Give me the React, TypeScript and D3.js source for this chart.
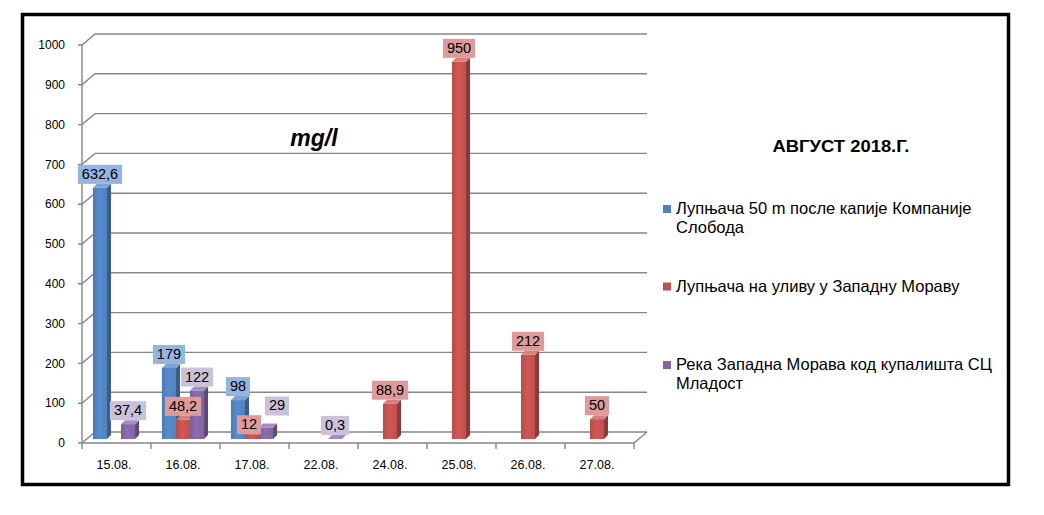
import { useEffect, useRef } from "react";
import * as d3 from "d3";

const categories = ["15.08.", "16.08.", "17.08.", "22.08.", "24.08.", "25.08.", "26.08.", "27.08."];
const upstreamValues = [632.6, 179, 98, null, null, null, null, null];
const outletValues = [null, 48.2, 12, null, 88.9, 950, 212, 50];
const riverValues = [37.4, 122, 29, 0.3, null, null, null, null];
const yTicks = [0, 100, 200, 300, 400, 500, 600, 700, 800, 900, 1000];
const legendLines = [
  ["Лупњача 50 m после капије Компаније", "Слобода"],
  ["Лупњача на уливу у Западну Мораву"],
  ["Река Западна Морава код купалишта СЦ", "Младост"],
];
const chartTitle = "АВГУСТ 2018.Г.";
const unitTitle = "mg/l";

type Series = {
  values: (number | null)[];
  front: string;
  side: string;
  top: string;
  label: string;
};

const series: Series[] = [
  { values: upstreamValues, front: "#4F81BD", side: "#385D8A", top: "#7EA3D3", label: "#93B5E0" },
  { values: outletValues, front: "#C0504D", side: "#8C3836", top: "#D8807E", label: "#DE9B99" },
  { values: riverValues, front: "#8064A2", side: "#5C4776", top: "#A38EC2", label: "#CCC1DA" },
];

// hand-moved data labels in the original (series-category)
const labelNudge: Record<string, [number, number]> = {
  "2-2": [11, -8],
  "1-2": [-3, 4],
};

export default function App() {
  const svgRef = useRef<SVGSVGElement>(null);

  useEffect(() => {
    if (!svgRef.current) return;
    const svg = d3.select(svgRef.current);
    svg.selectAll("*").remove();

    const font = "Arial, 'Liberation Sans', sans-serif";
    const axisColor = "#878787";
    const wallDx = 13;
    const wallDy = -11;
    const barDepth = 4;

    const x0 = d3
      .scaleBand<string>()
      .domain(categories)
      .range([82, 634])
      .paddingInner(0.39)
      .paddingOuter(0.195);
    const x1 = d3
      .scaleBand<number>()
      .domain(series.map((_, i) => i))
      .range([0, x0.bandwidth()]);
    const yFront = d3.scaleLinear().domain([0, 1000]).range([443, 45]);
    const yBar = d3.scaleLinear().domain([0, 1000]).range([439, 42]);
    const shift = -2.5;

    // outer frame
    svg
      .append("rect")
      .attr("x", 22.5)
      .attr("y", 14.5)
      .attr("width", 986)
      .attr("height", 470)
      .attr("fill", "none")
      .attr("stroke", "#000")
      .attr("stroke-width", 3.5);

    const grid = svg.append("g").attr("stroke", axisColor).attr("stroke-width", 1.4).attr("fill", "none");
    const left = 82;
    const right = 634;

    yTicks.forEach((t) => {
      const y = yFront(t);
      grid
        .append("path")
        .attr("d", `M${left - 4},${y}H${left}L${left + wallDx},${y + wallDy}H${right + wallDx}`);
    });
    // front axis
    grid.append("line").attr("x1", left).attr("x2", left).attr("y1", yFront(1000)).attr("y2", yFront(0));
    // floor front edge and right side
    grid
      .append("path")
      .attr("d", `M${left},${yFront(0)}H${right}L${right + wallDx},${yFront(0) + wallDy}`);
    // category ticks
    d3.range(categories.length + 1).forEach((i) => {
      const x = left + (i * (right - left)) / categories.length;
      grid.append("line").attr("x1", x).attr("x2", x).attr("y1", yFront(0)).attr("y2", yFront(0) + 6);
    });

    // y labels
    svg
      .append("g")
      .selectAll("text")
      .data(yTicks)
      .join("text")
      .attr("x", 65)
      .attr("y", (d) => yFront(d))
      .attr("dy", "0.35em")
      .attr("text-anchor", "end")
      .attr("font-family", font)
      .attr("font-size", 12)
      .attr("fill", "#000")
      .text((d) => d);

    // category labels
    svg
      .append("g")
      .selectAll("text")
      .data(categories)
      .join("text")
      .attr("x", (d) => (x0(d) ?? 0) + x0.bandwidth() / 2 + shift)
      .attr("y", 469)
      .attr("text-anchor", "middle")
      .attr("font-family", font)
      .attr("font-size", 12.5)
      .attr("fill", "#000")
      .text((d) => d);

    // gradients for bar fronts
    const defs = svg.append("defs");
    series.forEach((s, i) => {
      const g = defs
        .append("linearGradient")
        .attr("id", `front${i}`)
        .attr("x1", "0")
        .attr("x2", "1")
        .attr("y1", "0")
        .attr("y2", "0");
      g.append("stop").attr("offset", "0").attr("stop-color", d3.color(s.front)!.darker(0.15).formatHex());
      g.append("stop").attr("offset", "0.45").attr("stop-color", d3.color(s.front)!.brighter(0.25).formatHex());
      g.append("stop").attr("offset", "1").attr("stop-color", s.front);
    });

    // bars
    const bars = svg.append("g");
    const base = yBar(0);
    categories.forEach((c, ci) => {
      series.forEach((s, si) => {
        const v = s.values[ci];
        if (v == null) return;
        const x = (x0(c) ?? 0) + (x1(si) ?? 0) + shift;
        const w = x1.bandwidth();
        const yt = yBar(v);
        bars
          .append("path")
          .attr("fill", s.side)
          .attr("d", `M${x + w},${yt}l${barDepth},${-barDepth}V${base - barDepth}L${x + w},${base}Z`);
        bars
          .append("path")
          .attr("fill", s.top)
          .attr("d", `M${x},${yt}l${barDepth},${-barDepth}h${w}l${-barDepth},${barDepth}Z`);
        bars
          .append("rect")
          .attr("x", x)
          .attr("y", yt)
          .attr("width", w)
          .attr("height", base - yt)
          .attr("fill", `url(#front${si})`);
      });
    });

    // data labels
    const labels = svg.append("g");
    series.forEach((s, si) => {
      s.values.forEach((v, ci) => {
        if (v == null) return;
        const [nx, ny] = labelNudge[`${si}-${ci}`] ?? [0, 0];
        const cx = (x0(categories[ci]) ?? 0) + (x1(si) ?? 0) + shift + x1.bandwidth() / 2 + nx;
        const bottom = yBar(v) - barDepth + ny;
        const lg = labels.append("g");
        const rect = lg.append("rect").attr("fill", s.label);
        const txt = lg
          .append("text")
          .attr("x", cx)
          .attr("y", bottom - 5)
          .attr("text-anchor", "middle")
          .attr("font-family", font)
          .attr("font-size", 14.5)
          .attr("fill", "#000")
          .text(String(v).replace(".", ","));
        const tw = (txt.node() as SVGTextElement).getComputedTextLength();
        rect
          .attr("x", cx - tw / 2 - 4)
          .attr("y", bottom - 19)
          .attr("width", tw + 8)
          .attr("height", 19);
      });
    });

    // unit title
    svg
      .append("text")
      .attr("x", 314)
      .attr("y", 146)
      .attr("text-anchor", "middle")
      .attr("font-family", font)
      .attr("font-size", 23)
      .attr("font-weight", "bold")
      .attr("font-style", "italic")
      .text(unitTitle);

    svg
      .append("text")
      .attr("x", 841)
      .attr("y", 152)
      .attr("text-anchor", "middle")
      .attr("font-family", font)
      .attr("font-size", 17)
      .attr("font-weight", "bold")
      .attr("textLength", 137)
      .attr("lengthAdjust", "spacingAndGlyphs")
      .text(chartTitle);

    // legend
    const legendBaselines = [214, 291.5, 370];
    const legend = svg.append("g");
    legendLines.forEach((lines, i) => {
      const y = legendBaselines[i];
      legend
        .append("rect")
        .attr("x", 663)
        .attr("y", y - 9)
        .attr("width", 8)
        .attr("height", 8)
        .attr("fill", series[i].front);
      lines.forEach((line, li) => {
        legend
          .append("text")
          .attr("x", 676)
          .attr("y", y + li * 18.5)
          .attr("font-family", font)
          .attr("font-size", 16.5)
          .attr("fill", "#000")
          .text(line);
      });
    });
  }, []);

  return (
    <svg
      ref={svgRef}
      width={1044}
      height={515}
      viewBox="0 0 1044 515"
      style={{ position: "absolute", left: 0, top: 0, background: "#fff" }}
    />
  );
}
